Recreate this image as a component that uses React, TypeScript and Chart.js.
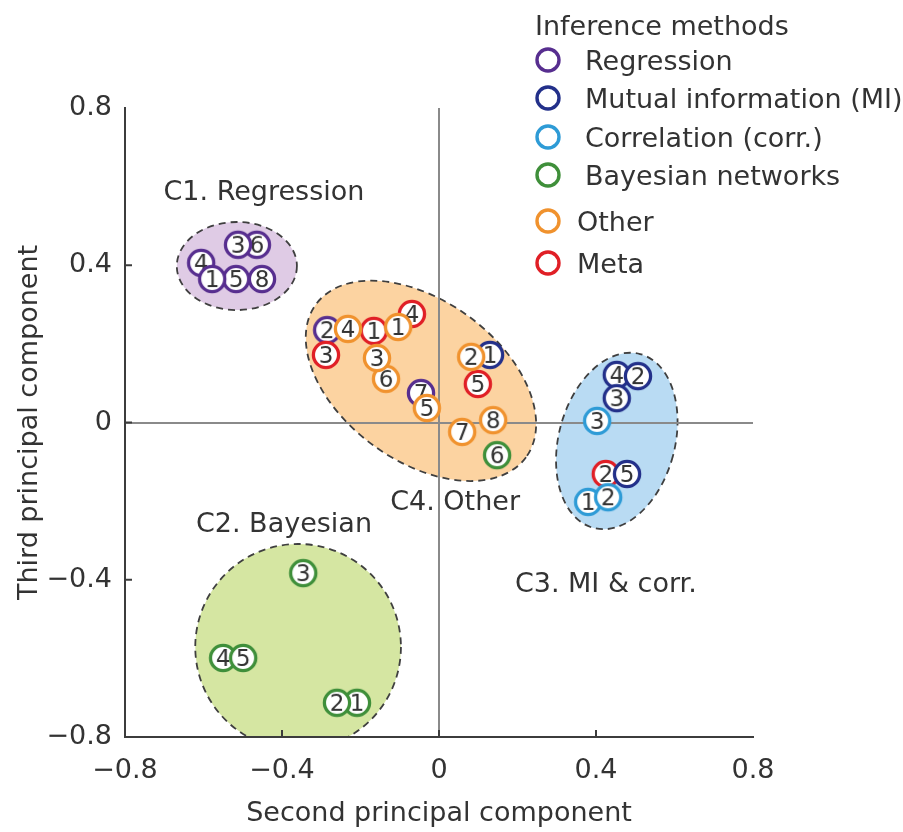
import React, { useEffect, useRef } from "react";
import { Chart, registerables } from "chart.js";

Chart.register(...registerables);

const FONT = "'DejaVu Sans', sans-serif";
const TEXT = "#333333";

// axis ticks
const xTicks = [-0.8, -0.4, 0, 0.4, 0.8];
const yTicks = [-0.8, -0.4, 0, 0.4, 0.8];

// legend / methods
const methodNames = [
  "Regression",
  "Mutual information (MI)",
  "Correlation (corr.)",
  "Bayesian networks",
  "Other",
  "Meta",
];
const methodColors = ["#572e8f", "#23308a", "#2e9bd6", "#3f8f3a", "#f0922e", "#e01f26"];
const methodOrder = [4, 2, 1, 5, 0, 3];

// series values (second PC, third PC, method index labels)
const regressionX = [-0.606, -0.464, -0.512, -0.517, -0.578, -0.451, -0.285, -0.046];
const regressionY = [0.406, 0.452, 0.452, 0.365, 0.365, 0.365, 0.235, 0.075];
const regressionLabels = ["4", "6", "3", "5", "1", "8", "2", "7"];

const miX = [0.13, 0.453, 0.507, 0.453, 0.479];
const miY = [0.172, 0.121, 0.118, 0.062, -0.131];
const miLabels = ["1", "4", "2", "3", "5"];

const corrX = [0.403, 0.38, 0.431];
const corrY = [0.004, -0.202, -0.19];
const corrLabels = ["3", "1", "2"];

const bayesX = [0.148, -0.346, -0.55, -0.499, -0.209, -0.26];
const bayesY = [-0.083, -0.383, -0.599, -0.599, -0.713, -0.713];
const bayesLabels = ["6", "3", "4", "5", "1", "2"];

const otherX = [-0.232, -0.104, -0.135, -0.158, -0.031, 0.082, 0.138, 0.059];
const otherY = [0.238, 0.243, 0.111, 0.164, 0.037, 0.167, 0.006, -0.024];
const otherLabels = ["4", "1", "6", "3", "5", "2", "8", "7"];

const metaX = [-0.166, -0.069, -0.288, 0.099, 0.425];
const metaY = [0.233, 0.276, 0.172, 0.098, -0.131];
const metaLabels = ["1", "4", "3", "5", "2"];

// cluster annotations (data units)
const clusterNames = ["C1. Regression", "C2. Bayesian", "C3. MI & corr.", "C4. Other"];
const clusterCx = [-0.515, -0.359, 0.453, -0.046];
const clusterCy = [0.398, -0.571, -0.047, 0.106];
const clusterRx = [0.153, 0.262, 0.148, 0.331];
const clusterRy = [0.112, 0.262, 0.229, 0.204];
const clusterAngle = [0, 0, 15, 36];
const clusterFill = ["#dfcbe5", "#d5e6a2", "#b9dbf3", "#fcd3a1"];
const clusterLabelX = [-0.446, -0.395, 0.425, 0.041];
const clusterLabelY = [0.592, -0.253, -0.406, -0.197];

const seriesX = [regressionX, miX, corrX, bayesX, otherX, metaX];
const seriesY = [regressionY, miY, corrY, bayesY, otherY, metaY];
const seriesLabels = [regressionLabels, miLabels, corrLabels, bayesLabels, otherLabels, metaLabels];

function makeMarker(label: string, color: string): HTMLCanvasElement {
  const c = document.createElement("canvas");
  const size = 36;
  c.width = size;
  c.height = size;
  const g = c.getContext("2d") as CanvasRenderingContext2D;
  g.beginPath();
  g.arc(size / 2, size / 2, 12.6, 0, Math.PI * 2);
  g.fillStyle = "#ffffff";
  g.fill();
  g.lineWidth = 3.3;
  g.strokeStyle = color;
  g.stroke();
  g.fillStyle = TEXT;
  g.font = `23px ${FONT}`;
  g.textAlign = "center";
  g.textBaseline = "alphabetic";
  g.fillText(label, size / 2, size / 2 + 8.3);
  return c;
}

const fmt = (v: number | string) => {
  const n = Number(v);
  if (Math.abs(n) < 1e-9) return "0";
  return (n < 0 ? "\u2212" : "") + Math.abs(n).toFixed(1);
};

const overlayPlugin = {
  id: "overlay",
  beforeDraw(chart: any) {
    const { ctx, chartArea, scales } = chart;
    const xs = scales.x;
    const ys = scales.y;
    ctx.save();
    ctx.fillStyle = "#ffffff";
    ctx.fillRect(0, 0, chart.width, chart.height);
    ctx.beginPath();
    ctx.rect(chartArea.left, chartArea.top, chartArea.right - chartArea.left, chartArea.bottom - chartArea.top);
    ctx.clip();
    const pxX = Math.abs(xs.getPixelForValue(1) - xs.getPixelForValue(0));
    const pxY = Math.abs(ys.getPixelForValue(1) - ys.getPixelForValue(0));
    for (let i = 0; i < clusterNames.length; i++) {
      const cx = xs.getPixelForValue(clusterCx[i]);
      const cy = ys.getPixelForValue(clusterCy[i]);
      ctx.beginPath();
      ctx.ellipse(cx, cy, clusterRx[i] * pxX, clusterRy[i] * pxY, (clusterAngle[i] * Math.PI) / 180, 0, Math.PI * 2);
      ctx.fillStyle = clusterFill[i];
      ctx.fill();
      ctx.setLineDash([7, 5]);
      ctx.lineWidth = 1.8;
      ctx.strokeStyle = "#3f3f3f";
      ctx.stroke();
    }
    ctx.restore();
  },
  beforeDatasetsDraw(chart: any) {
    const { ctx, chartArea, scales } = chart;
    const xs = scales.x;
    const ys = scales.y;
    ctx.save();
    ctx.strokeStyle = "#3c3c3c";
    ctx.lineWidth = 2;
    const len = 7;
    xTicks.slice(1, -1).forEach((v) => {
      const px = xs.getPixelForValue(v);
      ctx.beginPath();
      ctx.moveTo(px, chartArea.bottom);
      ctx.lineTo(px, chartArea.bottom - len);
      ctx.stroke();
    });
    yTicks.slice(1, -1).forEach((v) => {
      const py = ys.getPixelForValue(v);
      ctx.beginPath();
      ctx.moveTo(chartArea.left, py);
      ctx.lineTo(chartArea.left + len, py);
      ctx.stroke();
    });
    ctx.restore();
  },
  afterDraw(chart: any) {
    const { ctx, scales } = chart;
    const xs = scales.x;
    const ys = scales.y;
    ctx.save();
    ctx.fillStyle = TEXT;
    ctx.font = `27px ${FONT}`;
    ctx.textBaseline = "alphabetic";
    ctx.textAlign = "center";
    for (let i = 0; i < clusterNames.length; i++) {
      ctx.fillText(clusterNames[i], xs.getPixelForValue(clusterLabelX[i]), ys.getPixelForValue(clusterLabelY[i]) + 10);
    }
    // legend
    ctx.textAlign = "left";
    const lx = 535;
    ctx.fillText("Inference methods", lx, 35);
    const rowY = [60, 98, 137, 175, 221, 263];
    const textX = [585, 585, 585, 585, 577, 577];
    for (let i = 0; i < methodNames.length; i++) {
      ctx.beginPath();
      ctx.arc(548, rowY[i], 11, 0, Math.PI * 2);
      ctx.fillStyle = "#ffffff";
      ctx.fill();
      ctx.lineWidth = 3.4;
      ctx.strokeStyle = methodColors[i];
      ctx.stroke();
      ctx.fillStyle = TEXT;
      ctx.fillText(methodNames[i], textX[i], rowY[i] + 10);
    }
    ctx.restore();
  },
};

export default function App() {
  const ref = useRef<HTMLCanvasElement | null>(null);
  useEffect(() => {
    if (!ref.current) return;
    const datasets = methodNames.map((name, i) => ({
      label: name,
      data: seriesX[i].map((x, j) => ({ x, y: seriesY[i][j] })),
      pointStyle: seriesLabels[i].map((l) => makeMarker(l, methodColors[i])),
      pointRadius: 14,
      showLine: false,
      order: methodOrder[i],
      borderColor: methodColors[i],
      backgroundColor: "#ffffff",
    }));
    const chart = new Chart(ref.current, {
      type: "scatter",
      data: { datasets },
      plugins: [overlayPlugin],
      options: {
        responsive: false,
        animation: false,
        events: [],
        layout: { padding: { top: 108, right: 150, left: 0, bottom: 0 } },
        plugins: { legend: { display: false }, tooltip: { enabled: false }, title: { display: false } },
        scales: {
          x: {
            type: "linear",
            min: -0.8,
            max: 0.8,
            afterBuildTicks: (s: any) => {
              s.ticks = xTicks.map((v) => ({ value: v }));
            },
            afterFit: (s: any) => {
              s.height = 95;
            },
            ticks: {
              font: { family: FONT, size: 27 },
              color: TEXT,
              padding: 18,
              maxRotation: 0,
              autoSkip: false,
              callback: fmt,
            },
            grid: {
              drawTicks: false,
              lineWidth: 2,
              color: (c: any) => (c.tick && Math.abs(c.tick.value) < 1e-9 ? "#8a8a8a" : "rgba(0,0,0,0)"),
            },
            border: { display: true, color: "#3c3c3c", width: 2 },
            title: {
              display: true,
              text: "Second principal component",
              font: { family: FONT, size: 27 },
              color: TEXT,
              padding: { top: 0, bottom: 2 },
            },
          },
          y: {
            type: "linear",
            min: -0.8,
            max: 0.8,
            afterBuildTicks: (s: any) => {
              s.ticks = yTicks.map((v) => ({ value: v }));
            },
            afterFit: (s: any) => {
              s.width = 125;
            },
            ticks: {
              font: { family: FONT, size: 27 },
              color: TEXT,
              padding: 13,
              autoSkip: false,
              callback: fmt,
            },
            grid: {
              drawTicks: false,
              lineWidth: 2,
              color: (c: any) => (c.tick && Math.abs(c.tick.value) < 1e-9 ? "#8a8a8a" : "rgba(0,0,0,0)"),
            },
            border: { display: true, color: "#3c3c3c", width: 2 },
            title: {
              display: true,
              text: "Third principal component",
              font: { family: FONT, size: 27 },
              color: TEXT,
              padding: { top: 14, bottom: 0 },
            },
          },
        },
      },
    } as any);
    return () => chart.destroy();
  }, []);
  return (
    <div style={{ position: "fixed", left: 0, top: 0, width: 903, height: 832, background: "#ffffff" }}>
      <canvas ref={ref} width={903} height={832} style={{ display: "block" }} />
    </div>
  );
}
